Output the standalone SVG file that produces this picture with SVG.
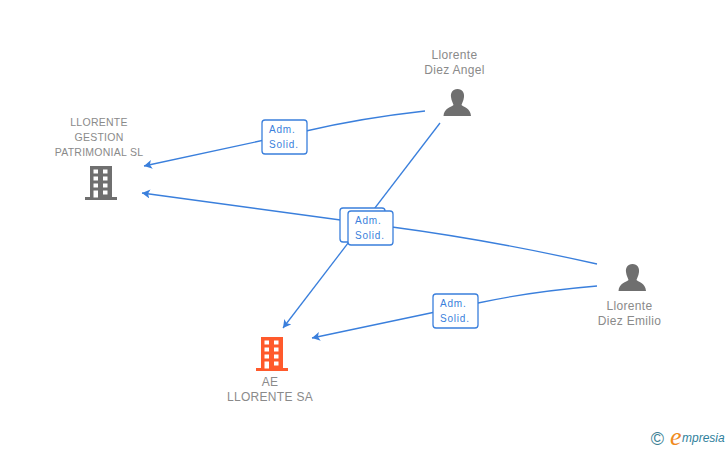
<svg xmlns="http://www.w3.org/2000/svg" width="728" height="450" viewBox="0 0 728 450">
<style>
.l{font-family:"Liberation Sans",Arial,sans-serif;font-size:12px;fill:#8a8a8a;text-anchor:middle;letter-spacing:.3px}
.s{font-size:10.5px;letter-spacing:.25px}
.c{fill:none;stroke:#3a7fdc;stroke-width:1.3}
.b{fill:#fff;stroke:#3a7fdc;stroke-width:1.3}
.t{font-family:"Liberation Sans",Arial,sans-serif;font-size:10px;fill:#3a7fdc;letter-spacing:.8px}
.g{fill:#6f6f6f}.o{fill:#ff5a2c}.w{fill:#fff}
</style>
<defs>
<marker id="a" markerUnits="userSpaceOnUse" markerWidth="10" markerHeight="10" refX="8" refY="4.500" orient="auto"><path d="M8 4.500L0 0L2 4.500L0 9Z" fill="#3a7fdc"/></marker>
<g id="bld"><path d="M5 0H27V31H32V34H0V31H5Z"/><g class="w"><rect x="8.500" y="3.500" width="4.500" height="4"/><rect x="18" y="3.500" width="4.500" height="4"/><rect x="8.500" y="10.500" width="4.500" height="4"/><rect x="18" y="10.500" width="4.500" height="4"/><rect x="8.500" y="17.500" width="4.500" height="4"/><rect x="18" y="17.500" width="4.500" height="4"/><rect x="8.500" y="24.500" width="4.500" height="7"/><rect x="18" y="24.500" width="4.500" height="4"/></g></g>
<path id="per" d="M14 0C19 0 21 4 20.500 8C20 12 18.500 14 18 16C20 18 27 19 27.500 27H0C.5 19 8 18 10 16C9.500 14 8 12 7.500 8C7 4 9 0 14 0Z"/>
</defs>
<g id="connectors">
<path class="c" marker-end="url(#a)" d="M425 111C380 116 340 123 306 131L144 166"/>
<path class="c" marker-end="url(#a)" d="M597 264C530 249 460 236 392 227L142 193"/>
<path class="c" marker-end="url(#a)" d="M440 123L283 328"/>
<path class="c" marker-end="url(#a)" d="M597 286C550 290 510 296 478 303L312 338"/>
</g>
<g id="edge-1"><rect class="b" x="262" y="120" width="45" height="34" rx="3"/><text class="t" x="269" y="133">Adm.</text><text class="t" x="269" y="148">Solid.</text></g>
<g id="edge-2"><rect class="b" x="340" y="208" width="45" height="34" rx="3"/></g>
<g id="edge-3"><rect class="b" x="348" y="211" width="45" height="34" rx="3"/><text class="t" x="355" y="224">Adm.</text><text class="t" x="355" y="239">Solid.</text></g>
<g id="edge-4"><rect class="b" x="433" y="294" width="45" height="34" rx="3"/><text class="t" x="440" y="307">Adm.</text><text class="t" x="440" y="322">Solid.</text></g>
<g id="node-gestion"><text class="l s" x="99" y="126">LLORENTE</text><text class="l s" x="99" y="141">GESTION</text><text class="l s" x="99" y="156">PATRIMONIAL SL</text><use href="#bld" class="g" x="85" y="166"/></g>
<g id="node-angel"><text class="l" x="454.500" y="59">Llorente</text><text class="l" x="454.500" y="74">Diez Angel</text><use href="#per" class="g" x="443.500" y="89"/></g>
<g id="node-emilio"><text class="l" x="629.500" y="310">Llorente</text><text class="l" x="629.500" y="325">Diez Emilio</text><use href="#per" class="g" x="618.500" y="264"/></g>
<g id="node-ae"><use href="#bld" class="o" x="256" y="337"/><text class="l" x="270" y="386">AE</text><text class="l" x="270" y="401">LLORENTE SA</text></g>
<g id="logo"><text x="657.500" y="445" font-family="Liberation Sans,sans-serif" font-size="18" fill="#3c7f95" text-anchor="middle">©</text><text x="670" y="445" font-family="Liberation Serif,serif" font-style="italic" font-size="26" fill="#f08a1d">e</text><text x="682" y="442" font-family="Liberation Sans,sans-serif" font-style="italic" font-size="12" fill="#2f7f9c">mpresia</text></g>
</svg>
